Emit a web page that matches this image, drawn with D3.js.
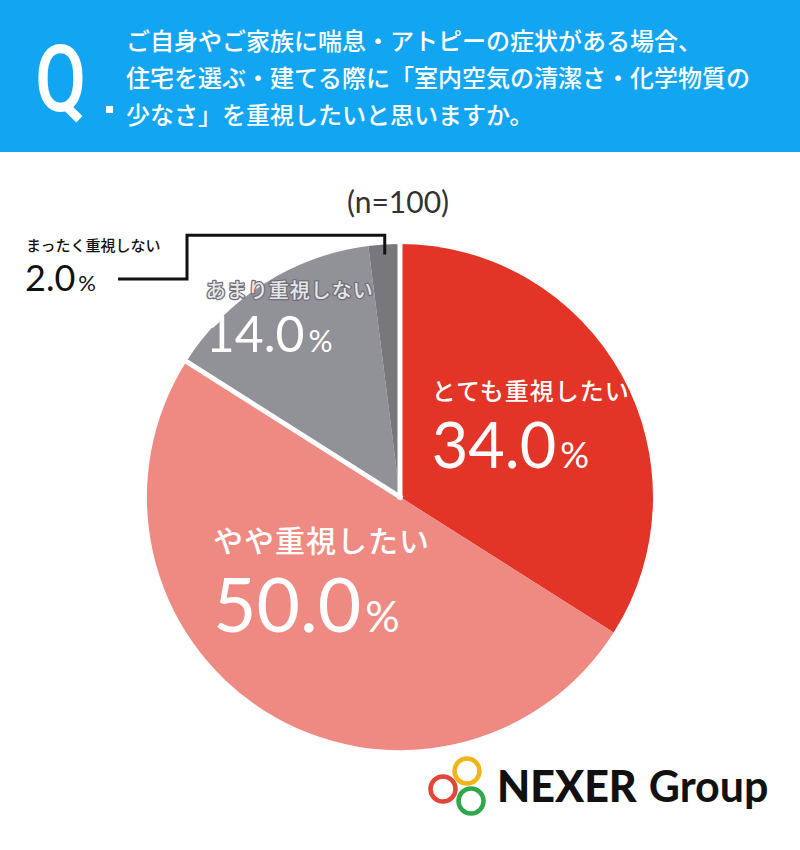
<!DOCTYPE html>
<html lang="ja">
<head>
<meta charset="UTF-8">
<title>室内空気の清潔さ・化学物質の少なさ</title>
<script src="https://d3js.org/d3.v7.min.js"></script>
<style>
  body { margin: 0; background: #fff; }
  svg { display: block; }
  .jp { font-family: "Noto Sans CJK JP", "Noto Sans", sans-serif; }
  .num { font-family: Lato, "Noto Sans", sans-serif; }
</style>
</head>
<body>
<svg width="800" height="850"></svg>
<script>
const questionLines = [
  "ご自身やご家族に喘息・アトピーの症状がある場合、",
  "住宅を選ぶ・建てる際に「室内空気の清潔さ・化学物質の",
  "少なさ」を重視したいと思いますか。"
];
const sampleLabel = "(n=100)";
const categories = ["とても重視したい", "やや重視したい", "あまり重視しない", "まったく重視しない"];
const values = [34.0, 50.0, 14.0, 2.0];
const sliceColors = ["#e23427", "#ef8a82", "#919198", "#77777c"];

const svg = d3.select("svg");
const W = 800;

// header
svg.append("rect").attr("width", W).attr("height", 152).attr("fill", "#12a6f2");
svg.append("text")
  .attr("transform", "translate(35,111) scale(0.8,1)")
  .attr("font-family", "Roboto, sans-serif")
  .attr("font-weight", 500)
  .attr("font-size", 93)
  .attr("fill", "#fff")
  .text("Q");
svg.append("rect").attr("x", 106).attr("y", 106).attr("width", 7).attr("height", 7).attr("fill", "#fff");
svg.append("g").selectAll("text")
  .data(questionLines)
  .join("text")
  .attr("class", "jp")
  .attr("x", 126)
  .attr("y", (d, i) => 50 + i * 37)
  .attr("font-size", 24)
  .attr("font-weight", 500)
  .attr("fill", "#fff")
  .text(d => d);

svg.append("text")
  .attr("class", "num")
  .attr("x", 398).attr("y", 213)
  .attr("text-anchor", "middle")
  .attr("font-size", 30)
  .attr("fill", "#333")
  .text(sampleLabel);

// pie
const cx = 400, cy = 497, R = 253;
const pie = d3.pie().sort(null).value(d => d)(values);
const arc = d3.arc().innerRadius(0).outerRadius(R);
const g = svg.append("g").attr("transform", `translate(${cx},${cy})`);

g.selectAll("path.slice")
  .data(pie)
  .join("path")
  .attr("class", "slice")
  .attr("d", arc)
  .attr("fill", (d, i) => sliceColors[i]);

// white separators: top edge and the grey/pink edge
const polar = (a, r) => [r * Math.sin(a), -r * Math.cos(a)];
[pie[0].startAngle, pie[2].startAngle].forEach(a => {
  const [x2, y2] = polar(a, R + 2);
  g.append("line")
    .attr("x1", 0).attr("y1", 0).attr("x2", x2).attr("y2", y2)
    .attr("stroke", "#fff").attr("stroke-width", 5).attr("stroke-linecap", "square");
});

// inner labels
const labelCfg = [
  { rf: 0.59, shift: 0,  nameSize: 24, numSize: 63, pctSize: 36, nameOff: -25, numOff: 43, nameFill: "#fff" },
  { rf: 0.46, shift: 10, nameSize: 30, numSize: 75, pctSize: 43, nameOff: -31, numOff: 49, nameFill: "#fff" },
  { rf: 0.83, shift: 0.7, nameSize: 20, numSize: 50, pctSize: 30, nameOff: -20, numOff: 34, nameFill: "#e6e6ea" }
];

labelCfg.forEach((c, i) => {
  const d = pie[i];
  const mid = (d.startAngle + d.endAngle) / 2 + c.shift * Math.PI / 180;
  const [lx, ly] = polar(mid, R * c.rf);
  const lg = g.append("g").attr("transform", `translate(${lx},${ly})`);
  const name = lg.append("text")
    .attr("class", "jp")
    .attr("y", c.nameOff)
    .attr("font-size", c.nameSize)
    .attr("font-weight", 500)
    .attr("letter-spacing", 1)
    .attr("fill", c.nameFill)
    .text(categories[i]);
  if (i === 2) {
    name.attr("stroke", "#6f6f75").attr("stroke-width", 2.5).attr("paint-order", "stroke").attr("stroke-linejoin", "round");
  }
  const num = lg.append("text")
    .attr("class", "num")
    .attr("y", c.numOff)
    .attr("fill", "#fff")
    .attr("font-size", c.numSize);
  num.append("tspan").text(values[i].toFixed(1));
  num.append("tspan").attr("font-size", c.pctSize).attr("dx", 4).text("%");
  const w = Math.max(name.node().getComputedTextLength(), num.node().getComputedTextLength());
  name.attr("x", -w / 2);
  num.attr("x", -w / 2);
});

// outside label for the small slice
const small = pie[3];
const sm = (small.startAngle + small.endAngle) / 2;
const [px, py] = polar(sm, R * 0.96);
const topY = -R * 1.035;
const elbowX = 187 - cx;
const textY = 279 - cy;
g.append("path")
  .attr("d", `M${px},${py}V${topY}H${elbowX}V${textY}H${118 - cx}`)
  .attr("fill", "none")
  .attr("stroke", "#111")
  .attr("stroke-width", 3);

svg.append("text")
  .attr("class", "jp")
  .attr("x", 26).attr("y", 251)
  .attr("font-size", 15)
  .attr("font-weight", 500)
  .attr("fill", "#111")
  .text(categories[3]);
const smallNum = svg.append("text")
  .attr("class", "num")
  .attr("x", 25).attr("y", 291)
  .attr("font-size", 36)
  .attr("fill", "#111");
smallNum.append("tspan").text(values[3].toFixed(1));
smallNum.append("tspan").attr("font-size", 22).attr("dx", 3).text("%");

// logo
const rings = [
  { x: 443, y: 789, c: "#e0463a" },
  { x: 467, y: 771, c: "#f2b515" },
  { x: 471, y: 801, c: "#2fa84a" }
];
svg.append("g").selectAll("circle")
  .data(rings)
  .join("circle")
  .attr("cx", d => d.x).attr("cy", d => d.y).attr("r", 12.5)
  .attr("fill", "none").attr("stroke", d => d.c).attr("stroke-width", 4.5);
const logo = svg.append("text")
  .attr("x", 497).attr("y", 802)
  .attr("font-family", "Lato, sans-serif")
  .attr("font-size", 43)
  .attr("fill", "#111");
logo.append("tspan").attr("font-weight", 900).text("NEXER");
logo.append("tspan").attr("font-weight", 700).attr("dx", 12).text("Group");
</script>
</body>
</html>
